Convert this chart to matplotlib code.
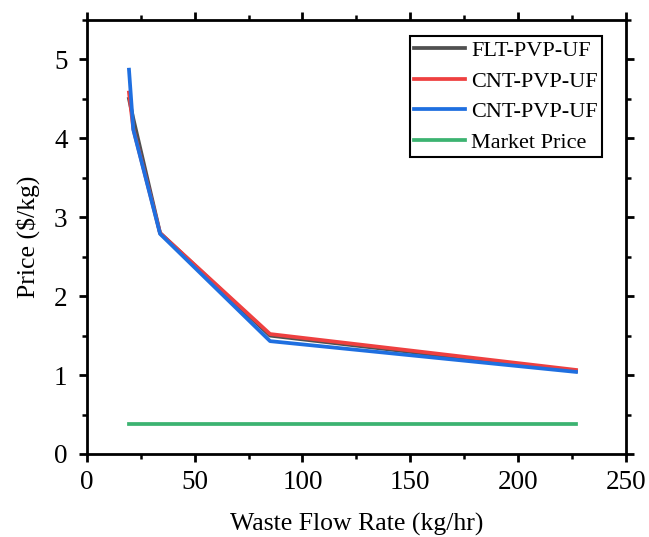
import matplotlib
matplotlib.use("Agg")
import matplotlib.pyplot as plt
from matplotlib.ticker import MultipleLocator

flow = [19.6, 21.6, 34.0, 85.0, 226.8]
flt_pvp_uf = [4.50, 4.25, 2.80, 1.50, 1.05]
cnt_pvp_uf_a = [4.58, 4.12, 2.80, 1.52, 1.065]
cnt_pvp_uf_b = [4.87, 4.11, 2.79, 1.43, 1.04]
market_x = [19.7, 226.8]
market_price = [0.38, 0.38]

plt.rcParams['font.family'] = ['Liberation Serif', 'DejaVu Serif']

fig = plt.figure(figsize=(6.49, 5.37), dpi=100)
ax = fig.add_axes([0.1336, 0.1546, 0.831, 0.8082])

lw = 2.7
ax.plot(flow, flt_pvp_uf, color='#505050', lw=lw, label='FLT-PVP-UF')
ax.plot(flow, cnt_pvp_uf_a, color='#EE4040', lw=lw, label='CNT-PVP-UF')
ax.plot(flow, cnt_pvp_uf_b, color='#1F6FE0', lw=lw, label='CNT-PVP-UF')
ax.plot(market_x, market_price, color='#3CB371', lw=lw, label='Market Price')

ax.set_xlim(0, 250)
ax.set_ylim(0, 5.5)
ax.xaxis.set_major_locator(MultipleLocator(50))
ax.xaxis.set_minor_locator(MultipleLocator(25))
ax.yaxis.set_major_locator(MultipleLocator(1))
ax.yaxis.set_minor_locator(MultipleLocator(0.5))

for s in ax.spines.values():
    s.set_linewidth(2.0)
ax.tick_params(which='both', direction='out', top=True, right=True,
               labeltop=False, labelright=False)
ax.tick_params(which='major', length=5.8, width=2.0, labelsize=19.5, pad=6)
ax.tick_params(which='minor', length=3.5, width=1.8)
ax.tick_params(axis='y', which='major', pad=8)

ax.set_xlabel('Waste Flow Rate (kg/hr)', fontsize=18.5)
ax.xaxis.set_label_coords(0.5, -0.136)
ax.set_ylabel('Price ($/kg)', fontsize=18.5, labelpad=10)

leg = ax.legend(loc='upper right', bbox_to_anchor=(0.9555, 0.963),
                borderaxespad=0, fontsize=16, frameon=True, fancybox=False,
                edgecolor='black', handlelength=2.3, handletextpad=0.25,
                borderpad=0.2, labelspacing=0.45)
leg.get_frame().set_linewidth(1.5)
leg.get_frame().set_alpha(1)

fig.savefig('out.png', dpi=100)
